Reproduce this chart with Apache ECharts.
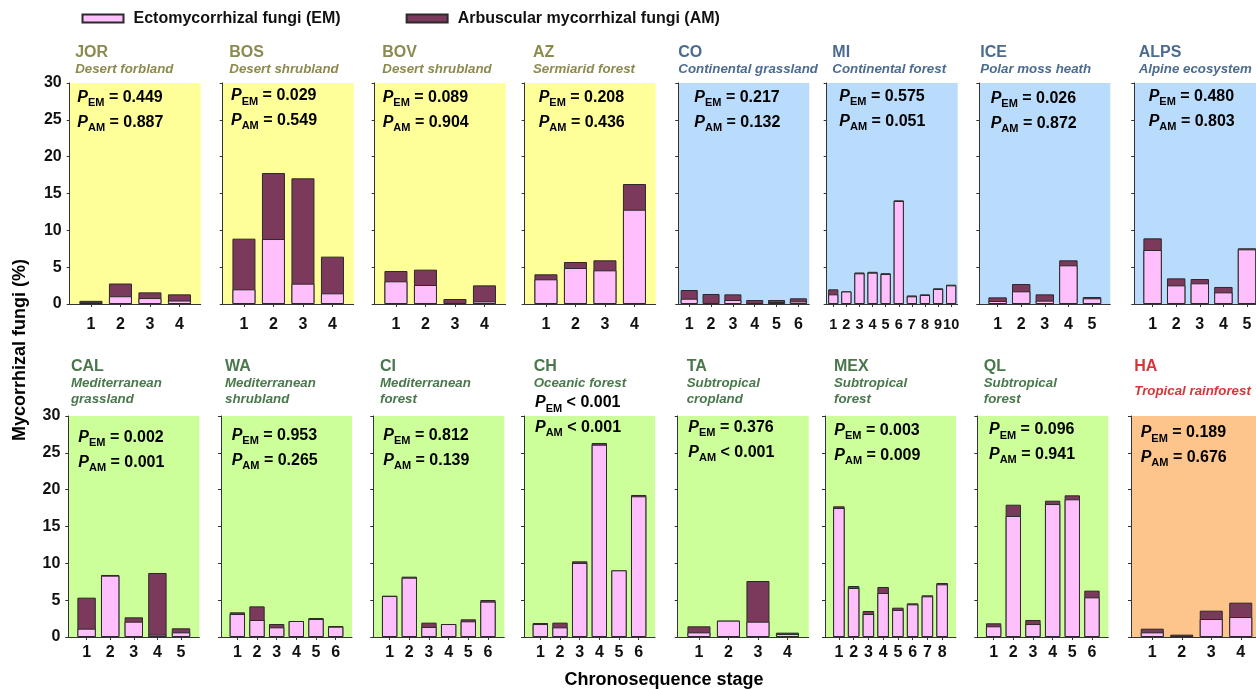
<!DOCTYPE html>
<html><head><meta charset="utf-8">
<script src="https://cdn.jsdelivr.net/npm/echarts@6/dist/echarts.min.js"></script>
<style>html,body{margin:0;padding:0;background:#fff}#c{width:1256px;height:689px}</style>
</head><body><div id="c"></div>
<script>
// ---------------- DATA ----------------
const codes = ['JOR','BOS','BOV','AZ','CO','MI','ICE','ALPS','CAL','WA','CI','CH','TA','MEX','QL','HA'];
const biomes = ['Desert forbland','Desert shrubland','Desert shrubland','Sermiarid forest','Continental grassland','Continental forest','Polar moss heath','Alpine ecosystem',
  'Mediterranean\ngrassland','Mediterranean\nshrubland','Mediterranean\nforest','Oceanic forest','Subtropical\ncropland','Subtropical\nforest','Subtropical\nforest','Tropical rainforest'];
const climate = ['desert','desert','desert','desert','cold','cold','cold','cold','temperate','temperate','temperate','temperate','temperate','temperate','temperate','tropical'];
const pEM = ['= 0.449','= 0.029','= 0.089','= 0.208','= 0.217','= 0.575','= 0.026','= 0.480','= 0.002','= 0.953','= 0.812','< 0.001','= 0.376','= 0.003','= 0.096','= 0.189'];
const pAM = ['= 0.887','= 0.549','= 0.904','= 0.436','= 0.132','= 0.051','= 0.872','= 0.803','= 0.001','= 0.265','= 0.139','< 0.001','< 0.001','= 0.009','= 0.941','= 0.676'];
const yTicks = [0, 5, 10, 15, 20, 25, 30];

// EM (%) and AM (%) per chronosequence stage
const emJOR = [0.25, 1.05, 0.81, 0.47];
const amJOR = [0.18, 1.73, 0.77, 0.84];
const emBOS = [1.99, 8.82, 2.76, 1.45];
const amBOS = [6.88, 8.96, 14.30, 4.98];
const emBOV = [3.08, 2.58, 0.14, 0.36];
const amBOV = [1.40, 2.08, 0.54, 2.17];
const emAZ = [3.35, 4.89, 4.57, 12.80];
const amAZ = [0.68, 0.81, 1.36, 3.49];
const emCO = [0.72, 0.14, 0.54, 0.14, 0.27, 0.36];
const amCO = [1.18, 1.22, 0.77, 0.40, 0.27, 0.41];
const emMI = [1.31, 1.70, 4.16, 4.25, 4.07, 13.98, 1.04, 1.22, 2.04, 2.53];
const amMI = [0.68, 0.02, 0.12, 0.12, 0.11, 0.09, 0.12, 0.09, 0.09, 0.09];
const emICE = [0.41, 1.72, 0.45, 5.25, 0.77];
const amICE = [0.49, 0.99, 0.86, 0.68, 0.18];
const emALPS = [7.33, 2.53, 2.81, 1.58, 7.42];
const amALPS = [1.58, 0.95, 0.58, 0.73, 0.14];
const emCAL = [1.13, 8.33, 2.08, 0.32, 0.63];
const amCAL = [4.21, 0.09, 0.59, 8.37, 0.55];
const emWA = [3.12, 2.31, 1.31, 2.17, 2.44, 1.40];
const amWA = [0.23, 1.85, 0.45, 0.00, 0.14, 0.09];
const emCI = [5.56, 8.05, 1.36, 1.76, 2.13, 4.80];
const amCI = [0.05, 0.14, 0.59, 0.00, 0.27, 0.22];
const emCH = [1.76, 1.31, 10.05, 26.10, 9.05, 19.10];
const amCH = [0.14, 0.64, 0.22, 0.23, 0.00, 0.18];
const emTA = [0.63, 2.22, 2.08, 0.41];
const amTA = [0.82, 0.00, 5.52, 0.18];
const emMEX = [17.51, 6.65, 3.12, 5.97, 3.67, 4.43, 5.52, 7.15];
const amMEX = [0.23, 0.27, 0.41, 0.82, 0.31, 0.14, 0.14, 0.18];
const emQL = [1.45, 16.43, 1.76, 18.05, 18.69, 5.38];
const amQL = [0.41, 1.53, 0.55, 0.45, 0.54, 0.91];
const emHA = [0.63, 0.14, 2.44, 2.71];
const amHA = [0.50, 0.18, 1.13, 1.95];

const emAll = [emJOR, emBOS, emBOV, emAZ, emCO, emMI, emICE, emALPS, emCAL, emWA, emCI, emCH, emTA, emMEX, emQL, emHA];
const amAll = [amJOR, amBOS, amBOV, amAZ, amCO, amMI, amICE, amALPS, amCAL, amWA, amCI, amCH, amTA, amMEX, amQL, amHA];

// ---------------- LAYOUT / STYLE ----------------
const F = '"Liberation Sans", Arial, Helvetica, sans-serif';
const EM_NAME = 'Ectomycorrhizal fungi (EM)';
const AM_NAME = 'Arbuscular mycorrhizal fungi (AM)';
const PINK = '#FFBFFC', MAROON = '#7B3A5C', EDGE = '#2a2a2a';
const bgColor = {desert:'#FFFF9A', cold:'#BADCFC', temperate:'#CCFF9A', tropical:'#FDC58B'};
const ttlColor = {desert:'#8C8A4E', cold:'#4B6B90', temperate:'#4A784C', tropical:'#D6363A'};
const colLeft = [[69.7,222.7,374.7,524.7,678.3,826.7,979.3,1134.3],[68.3,221,373.3,524,677.7,825,977.3,1131]];
const rowTop = [83, 416];
const PW = 131, PH = 221;
const fullWidth = [false,false,false,false,true,true,false,false, false,false,false,false,false,false,false,false];
const titleDx = [5.5,6.6,7.6,8.3,0,5.6,1,4.4, 2.7,4,6.7,9.7,9,9,6.4,3.3];
const pDx = [7.6,8.3,8,14,16,12.6,11.4,14.4, 10,10.7,10,11,10.6,9.3,11.7,9.7];
const pY = [97.7,96,97.7,97.7,97.7,96.7,98.7,96.7, 437.7,435.7,435.7,403,427.7,430.7,430,433];

const grids = [], xAxes = [], yAxes = [], series = [], graphics = [];
const rich = {
  p: {fontSize:16, fontWeight:'bold', fontStyle:'italic', fontFamily:F, fill:'#000', lineHeight:20},
  s: {fontSize:11, fontWeight:'bold', fontFamily:F, fill:'#000', lineHeight:12, padding:[11,0,0,0]},
  v: {fontSize:16, fontWeight:'bold', fontFamily:F, fill:'#000', lineHeight:20}
};

for (let i = 0; i < codes.length; i++) {
  const row = i < 8 ? 0 : 1, col = i % 8;
  const left = colLeft[row][col], top = rowTop[row];
  const em = emAll[i], am = amAll[i], n = em.length;
  const stages = em.map((_, k) => k + 1);
  const span = fullWidth[i] ? PW : 118;
  const step = span / n;
  const padU = (PW - span) / 2 / step;
  grids.push({left: left, top: top, width: PW, height: PH, show: true, backgroundColor: bgColor[climate[i]], borderWidth: 0,
    containLabel: false, outerBoundsMode: 'none'});
  xAxes.push({
    type: 'value', gridIndex: i, min: 0.5 - padU, max: n + 0.5 + padU,
    splitLine: {show: false},
    axisLine: {show: true, onZero: false, lineStyle: {color: '#333', width: 1}},
    axisTick: {show: true, customValues: stages, length: 3, lineStyle: {color: '#333'}},
    axisLabel: {show: true, customValues: stages, fontSize: n >= 10 ? 14.5 : 16, fontWeight: 'bold', fontFamily: F, color: '#111',
      margin: row === 0 ? 13 : 8, hideOverlap: false, showMinLabel: true, showMaxLabel: true}
  });
  yAxes.push({
    type: 'value', gridIndex: i, min: 0, max: 30, interval: 5,
    splitLine: {show: false},
    axisLine: {show: true, onZero: false, lineStyle: {color: '#333', width: 1}},
    axisTick: {show: true, length: 3, lineStyle: {color: '#333'}},
    axisLabel: {show: col === 0, fontSize: 16, fontWeight: 'bold', fontFamily: F, color: '#111', margin: 8,
      customValues: yTicks, showMinLabel: true, showMaxLabel: true}
  });
  const bw = step * 0.78;
  series.push({
    name: AM_NAME, type: 'bar', xAxisIndex: i, yAxisIndex: i, barWidth: bw, barGap: '-100%',
    itemStyle: {color: MAROON, borderColor: EDGE, borderWidth: 1},
    data: em.map((v, k) => [stages[k], +(v + am[k]).toFixed(3)])
  });
  series.push({
    name: EM_NAME, type: 'bar', xAxisIndex: i, yAxisIndex: i, barWidth: bw, barGap: '-100%',
    itemStyle: {color: PINK, borderColor: EDGE, borderWidth: 1},
    data: em.map((v, k) => [stages[k], v])
  });
  // titles
  const tc = ttlColor[climate[i]];
  const tx = left + titleDx[i];
  graphics.push({type: 'text', x: tx, y: row === 0 ? 52.5 : 366.7, silent: true,
    style: {text: codes[i], fill: tc, font: 'bold 16px ' + F, align: 'left', verticalAlign: 'middle'}});
  const subY = row === 0 ? 61.3 : (codes[i] === 'HA' ? 383.7 : 375.3);
  graphics.push({type: 'text', x: tx, y: subY, silent: true,
    style: {text: biomes[i], fill: tc, font: 'italic bold 13.3px ' + F, lineHeight: 16, align: 'left', verticalAlign: 'top'}});
  // P values
  const px = left + pDx[i];
  graphics.push({type: 'text', x: px, y: pY[i], silent: true,
    style: {text: '{p|P}{s|EM}{v| ' + pEM[i] + '}', rich: rich, align: 'left', verticalAlign: 'middle', font: 'bold 16px ' + F}});
  graphics.push({type: 'text', x: px, y: pY[i] + 24.5, silent: true,
    style: {text: '{p|P}{s|AM}{v| ' + pAM[i] + '}', rich: rich, align: 'left', verticalAlign: 'middle', font: 'bold 16px ' + F}});
}

graphics.push({type: 'text', x: 20, y: 350, rotation: Math.PI / 2, silent: true,
  style: {text: 'Mycorrhizal fungi (%)', font: 'bold 18px ' + F, fill: '#000', align: 'center', verticalAlign: 'middle'}});
graphics.push({type: 'text', x: 664, y: 680, silent: true,
  style: {text: 'Chronosequence stage', font: 'bold 18px ' + F, fill: '#000', align: 'center', verticalAlign: 'middle'}});

const chart = echarts.init(document.getElementById('c'), null, {renderer: 'canvas'});
chart.setOption({
  animation: false,
  backgroundColor: '#fff',
  legend: {
    left: 81.5, top: 10.5, padding: 0, itemGap: 65, itemWidth: 41, itemHeight: 8, icon: 'rect',
    selectedMode: false,
    data: [EM_NAME, AM_NAME],
    textStyle: {fontSize: 16, fontWeight: 'bold', fontFamily: F, color: '#111', padding: [0, 0, 0, 5]}
  },
  grid: grids, xAxis: xAxes, yAxis: yAxes, series: series, graphic: graphics
});
</script></body></html>
